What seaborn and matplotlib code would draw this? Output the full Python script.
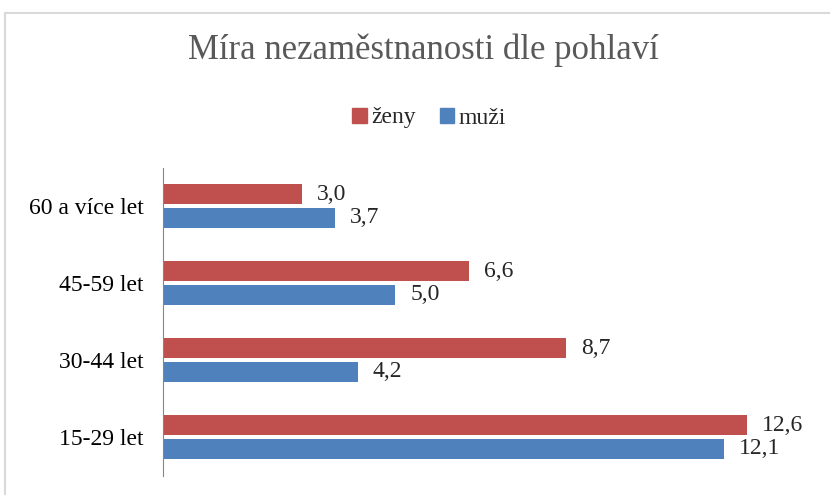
import matplotlib
matplotlib.use("Agg")
import matplotlib.pyplot as plt
import pandas as pd
import seaborn as sns
from matplotlib.patches import Rectangle

categories = ["60 a více let", "45-59 let", "30-44 let", "15-29 let"]
zeny = [3.0, 6.6, 8.7, 12.6]
muzi = [3.7, 5.0, 4.2, 12.1]
series = ["ženy", "muži"]
colors = ["#C0504D", "#4F81BD"]

df = pd.DataFrame({
    "kategorie": categories * 2,
    "hodnota": zeny + muzi,
    "pohlavi": [series[0]] * len(categories) + [series[1]] * len(categories),
})

sns.set_style("white")
plt.rcParams["font.family"] = ["Liberation Serif", "DejaVu Serif"]

fig = plt.figure(figsize=(8.3, 4.95), dpi=100)
fig.patches.append(Rectangle((5 / 830, -0.1), 1.1, (495 - 13) / 495 + 0.1,
                             transform=fig.transFigure, fill=False,
                             edgecolor="#D9D9D9", linewidth=1.5))

ax = fig.add_axes([163 / 830, 19.5 / 495, (812 - 163) / 830, 308 / 495])
sns.barplot(data=df, x="hodnota", y="kategorie", hue="pohlavi", order=categories,
            hue_order=series, palette=colors, saturation=1, orient="h", width=0.6,
            gap=0.13, linewidth=0, ax=ax, legend=False)

ax.set_xlim(0, 14)
ax.set_xlabel("")
ax.set_ylabel("")
ax.set_xticks([])
for side in ["top", "right", "bottom"]:
    ax.spines[side].set_visible(False)
ax.spines["left"].set_color("#868686")
ax.tick_params(axis="y", length=0, pad=14, labelsize=17, labelcolor="black")

for cont in ax.containers:
    ax.bar_label(cont, labels=[f"{v:.1f}".replace(".", ",") for v in cont.datavalues],
                 padding=11, fontsize=17)

fig.text(0.51, 1 - 50 / 495, "Míra nezaměstnanosti dle pohlaví", ha="center",
         va="center", fontsize=25, color="#595959")

handles = [Rectangle((0, 0), 1, 1, color=c) for c in colors]
fig.legend(handles, series, loc="center", bbox_to_anchor=(0.517, 1 - 118 / 495),
           ncol=2, frameon=False, fontsize=17, handlelength=0.6, handleheight=0.6,
           handletextpad=0.2, columnspacing=1.0)

fig.savefig("out.png", dpi=100)
